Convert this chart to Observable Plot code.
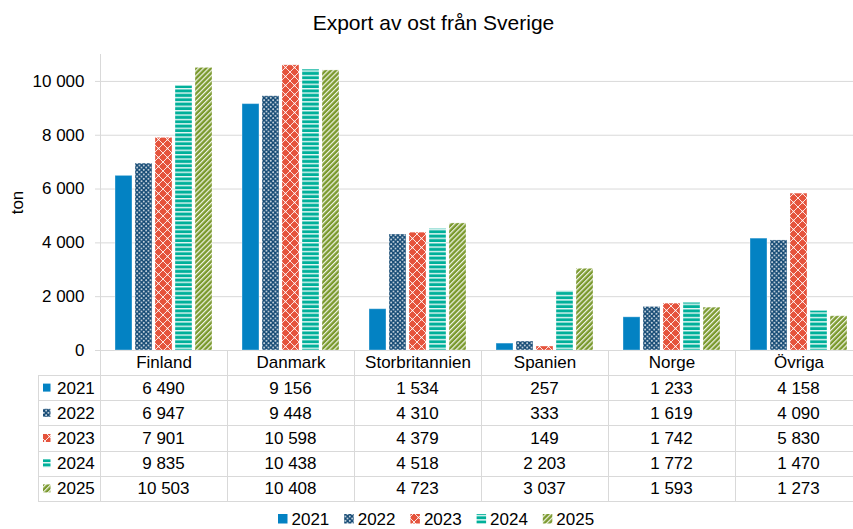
<!DOCTYPE html>
<html>
<head>
<meta charset="utf-8">
<script src="https://cdn.jsdelivr.net/npm/d3@7"></script>
<script src="https://cdn.jsdelivr.net/npm/@observablehq/plot@0.6"></script>
<style>
html, body { margin: 0; padding: 0; background: #fff; }
#wrap { position: relative; width: 853px; height: 529px; overflow: hidden; font-family: "Liberation Sans", Arial, sans-serif; color: #000; }
#title { position: absolute; left: 0; top: 11.5px; width: 867px; text-align: center; font-size: 21px; line-height: 21px; }
#chart { position: absolute; left: 0; top: 0; max-width: none !important; }
#overlay { position: absolute; left: 0; top: 0; pointer-events: none; }
</style>
</head>
<body>
<svg width="0" height="0" style="position:absolute">
  <defs>
    <pattern id="p2021" patternUnits="userSpaceOnUse" width="4" height="4">
      <rect width="4" height="4" fill="#0382C3"/>
    </pattern>
    <pattern id="p2022" patternUnits="userSpaceOnUse" width="4.5" height="4.5">
      <rect width="4.5" height="4.5" fill="#164B75"/>
      <circle cx="1.1" cy="1.1" r="0.85" fill="#fff"/>
      <circle cx="3.35" cy="3.35" r="0.85" fill="#fff"/>
    </pattern>
    <pattern id="p2023" patternUnits="userSpaceOnUse" width="9" height="9">
      <rect width="9" height="9" fill="#E5533C"/>
      <path d="M0,0L9,9M9,0L0,9" stroke="#fff" stroke-width="1" stroke-opacity="0.85"/>
      <circle cx="4.5" cy="4.5" r="1" fill="#fff" fill-opacity="0.6"/>
    </pattern>
    <pattern id="p2024" patternUnits="userSpaceOnUse" width="4" height="4.4">
      <rect width="4" height="4.4" fill="#00B09A"/>
      <rect y="0" width="4" height="1.4" fill="#fff" fill-opacity="0.9"/>
    </pattern>
    <pattern id="p2025" patternUnits="userSpaceOnUse" width="3.6" height="3.6" patternTransform="rotate(45)">
      <rect width="3.6" height="3.6" fill="#7A992D"/>
      <rect x="0" width="1.2" height="3.6" fill="#fff" fill-opacity="0.9"/>
    </pattern>
  </defs>
</svg>
<div id="wrap">
  <div id="title"></div>
</div>
<script>
// ---- data ----
const titleText = "Export av ost från Sverige";
const yLabel = "ton";
const categories = ["Finland", "Danmark", "Storbritannien", "Spanien", "Norge", "Övriga"];
const years = ["2021", "2022", "2023", "2024", "2025"];
const v2021 = [6490, 9156, 1534, 257, 1233, 4158];
const v2022 = [6947, 9448, 4310, 333, 1619, 4090];
const v2023 = [7901, 10598, 4379, 149, 1742, 5830];
const v2024 = [9835, 10438, 4518, 2203, 1772, 1470];
const v2025 = [10503, 10408, 4723, 3037, 1593, 1273];
const yTicks = [0, 2000, 4000, 6000, 8000, 10000];
const yMax = 11000;

const series = {"2021": v2021, "2022": v2022, "2023": v2023, "2024": v2024, "2025": v2025};
const data = [];
for (const yr of years) categories.forEach((c, i) => data.push({cat: c, year: yr, value: series[yr][i]}));

const locale = d3.formatLocale({decimal: ",", thousands: "\u00a0", grouping: [3], currency: ["", ""]});
const fmt = locale.format(",d");
const fill = yr => `url(#p${yr})`;
const gridColor = "#d9d9d9";
const font = "'Liberation Sans', Arial, sans-serif";

document.getElementById("title").textContent = titleText;

const chart = Plot.plot({
  width: 863,
  height: 376,
  marginTop: 54,
  marginBottom: 26,
  marginLeft: 99,
  marginRight: 0,
  style: {fontFamily: font, fontSize: "17px", color: "#000", background: "transparent", overflow: "visible", maxWidth: "none"},
  fx: {domain: categories, paddingInner: 0, paddingOuter: 0, label: null},
  x: {domain: years, paddingInner: 0.14, paddingOuter: 0.6, axis: null},
  y: {domain: [0, yMax], label: yLabel},
  color: {domain: years, range: years.map(fill)},
  marks: [
    Plot.gridY(yTicks, {stroke: gridColor, strokeOpacity: 1}),
    Plot.barY(data, {fx: "cat", x: "year", y: "value", fill: "year", stroke: "#fff", strokeOpacity: 0.35, strokeWidth: 1}),
    Plot.frame({anchor: "left", stroke: gridColor, facetAnchor: "left"}),
    Plot.axisY(yTicks, {tickFormat: fmt, tickSize: 5, tickPadding: 11, stroke: gridColor, fontSize: 17,
      label: yLabel, labelAnchor: "center", labelArrow: "none", labelOffset: 90}),
    Plot.axisFx({anchor: "bottom", tickSize: 0, tickPadding: 5, fontSize: 17, label: null})
  ]
});
chart.id = "chart";
chart.style.maxWidth = "none";
chart.setAttribute("width", 863);
chart.setAttribute("height", 376);
document.getElementById("wrap").appendChild(chart);

// ---- data table + legend, positioned from the fx scale ----
const fx = chart.scale("fx");
const bw = fx.bandwidth;
const right = fx.apply(categories[categories.length - 1]) + bw;
const tableLeft = 38;
const headTop = 350, rowTop = 375, rowH = 25.2;

const svg = d3.select("#wrap").append("svg")
  .attr("id", "overlay").attr("width", 863).attr("height", 529)
  .style("font-family", font).style("font-size", "17px");

const lines = svg.append("g").attr("stroke", gridColor).attr("stroke-width", 1).attr("shape-rendering", "crispEdges");
for (let i = 0; i <= years.length; i++) {
  const y = Math.round(rowTop + i * rowH) + 0.5;
  lines.append("line").attr("x1", tableLeft).attr("x2", right).attr("y1", y).attr("y2", y);
}
const bottom = Math.round(rowTop + years.length * rowH) + 0.5;
categories.forEach(c => {
  const x = Math.round(fx.apply(c)) + 0.5;
  lines.append("line").attr("x1", x).attr("x2", x).attr("y1", headTop).attr("y2", bottom);
});
lines.append("line").attr("x1", right - 0.5).attr("x2", right - 0.5).attr("y1", headTop).attr("y2", bottom);
lines.append("line").attr("x1", tableLeft + 0.5).attr("x2", tableLeft + 0.5).attr("y1", rowTop).attr("y2", bottom);

years.forEach((yr, i) => {
  const cy = rowTop + i * rowH + rowH / 2;
  svg.append("rect").attr("x", 43).attr("y", cy - 4).attr("width", 7.5).attr("height", 8).attr("fill", fill(yr));
  svg.append("text").attr("x", 57).attr("y", cy).attr("dy", "0.35em").text(yr);
  categories.forEach((c, j) => {
    svg.append("text").attr("x", fx.apply(c) + bw / 2).attr("y", cy).attr("dy", "0.35em")
      .attr("text-anchor", "middle").text(fmt(series[yr][j]));
  });
});

// legend
const legendX0 = 278, legendStep = 66.2;
years.forEach((yr, i) => {
  const x = legendX0 + i * legendStep;
  svg.append("rect").attr("x", x).attr("y", 514).attr("width", 9.5).attr("height", 9.5).attr("fill", fill(yr));
  svg.append("text").attr("x", x + 13.5).attr("y", 524.5).text(yr);
});
</script>
</body>
</html>
